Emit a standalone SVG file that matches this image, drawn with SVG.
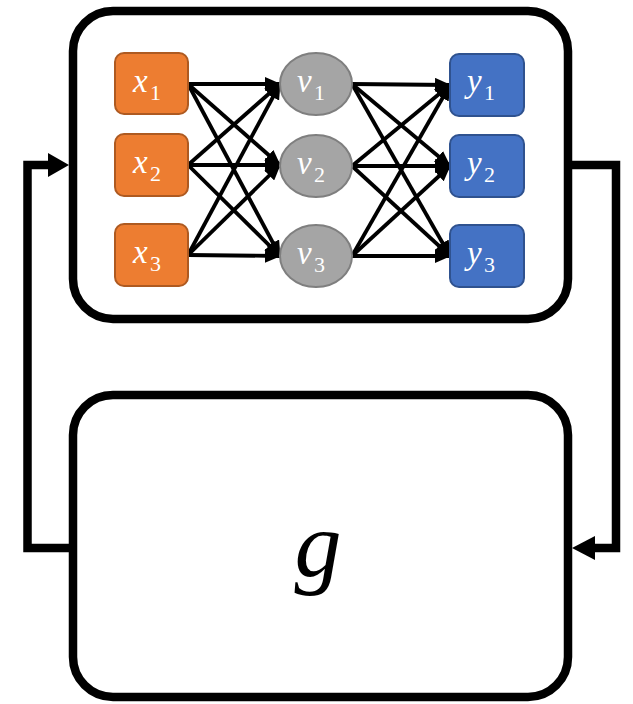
<svg xmlns="http://www.w3.org/2000/svg" width="633" height="704" viewBox="0 0 633 704">
<style>
.frame{fill:#fff;stroke:#000;stroke-width:8.5}
.xn{fill:#ED7D31;stroke:#AE5A21;stroke-width:2}
.vn{fill:#A5A5A5;stroke:#7F7F7F;stroke-width:2}
.yn{fill:#4472C4;stroke:#2F528F;stroke-width:2}
.lbl{font-family:"Liberation Serif","DejaVu Serif",serif;font-style:italic;font-size:33px;fill:#fff}
.sub{font-style:normal;font-size:22px}
.e{stroke:#000;stroke-width:3.8;fill:none;marker-end:url(#ah)}
.fb{stroke:#000;stroke-width:8.5;fill:none}
</style>
<defs>
<marker id="ah" markerUnits="userSpaceOnUse" markerWidth="16" markerHeight="14" refX="15" refY="7" orient="auto">
<path d="M0,0 L16,7 L0,14 z" fill="#000"/>
</marker>
</defs>
<g id="top-box"><rect class="frame" x="73" y="11" width="495" height="308" rx="40"/></g>
<g id="g-box"><rect class="frame" x="73" y="395" width="495" height="302" rx="40"/>
<text x="318" y="576" text-anchor="middle" style="font-family:'Liberation Serif','DejaVu Serif',serif;font-style:italic;font-size:94px;fill:#000">g</text></g>
<g id="connectors">
<line class="e" x1="188" y1="84" x2="280" y2="84"/>
<line class="e" x1="188" y1="84" x2="280" y2="165"/>
<line class="e" x1="188" y1="84" x2="280" y2="256"/>
<line class="e" x1="188" y1="165" x2="280" y2="84"/>
<line class="e" x1="188" y1="165" x2="280" y2="165"/>
<line class="e" x1="188" y1="165" x2="280" y2="256"/>
<line class="e" x1="188" y1="255" x2="280" y2="84"/>
<line class="e" x1="188" y1="255" x2="280" y2="165"/>
<line class="e" x1="188" y1="255" x2="280" y2="256"/>
<line class="e" x1="352" y1="84" x2="450" y2="85"/>
<line class="e" x1="352" y1="84" x2="450" y2="166"/>
<line class="e" x1="352" y1="84" x2="450" y2="256"/>
<line class="e" x1="352" y1="166" x2="450" y2="85"/>
<line class="e" x1="352" y1="166" x2="450" y2="166"/>
<line class="e" x1="352" y1="166" x2="450" y2="256"/>
<line class="e" x1="352" y1="256" x2="450" y2="85"/>
<line class="e" x1="352" y1="256" x2="450" y2="166"/>
<line class="e" x1="352" y1="256" x2="450" y2="256"/>
<polyline class="fb" points="69,548 27.5,548 27.5,165 50,165"/>
<polygon points="48,153 69,165 48,177" fill="#000"/>
<polyline class="fb" points="572,165 616,165 616,548 593,548"/>
<polygon points="595,536 572,548 595,560" fill="#000"/>
</g>
<g id="x1"><rect class="xn" x="115" y="53" width="73" height="61" rx="9"/><text class="lbl" x="133" y="92">x<tspan class="sub" x="150" y="100">1</tspan></text></g>
<g id="x2"><rect class="xn" x="115" y="134" width="73" height="62" rx="9"/><text class="lbl" x="133" y="173">x<tspan class="sub" x="150" y="181">2</tspan></text></g>
<g id="x3"><rect class="xn" x="115" y="224" width="73" height="62" rx="9"/><text class="lbl" x="133" y="263">x<tspan class="sub" x="150" y="271">3</tspan></text></g>
<g id="v1"><ellipse class="vn" cx="316" cy="84" rx="36" ry="31"/><text class="lbl" x="297" y="92">v<tspan class="sub" x="314" y="100">1</tspan></text></g>
<g id="v2"><ellipse class="vn" cx="316" cy="166" rx="36" ry="31"/><text class="lbl" x="297" y="174">v<tspan class="sub" x="314" y="182">2</tspan></text></g>
<g id="v3"><ellipse class="vn" cx="316" cy="256" rx="36" ry="31"/><text class="lbl" x="297" y="264">v<tspan class="sub" x="314" y="272">3</tspan></text></g>
<g id="y1"><rect class="yn" x="450" y="54" width="74" height="62" rx="9"/><text class="lbl" x="467" y="92">y<tspan class="sub" x="484" y="100">1</tspan></text></g>
<g id="y2"><rect class="yn" x="450" y="135" width="74" height="62" rx="9"/><text class="lbl" x="467" y="174">y<tspan class="sub" x="484" y="182">2</tspan></text></g>
<g id="y3"><rect class="yn" x="450" y="225" width="74" height="62" rx="9"/><text class="lbl" x="467" y="264">y<tspan class="sub" x="484" y="272">3</tspan></text></g>
</svg>
